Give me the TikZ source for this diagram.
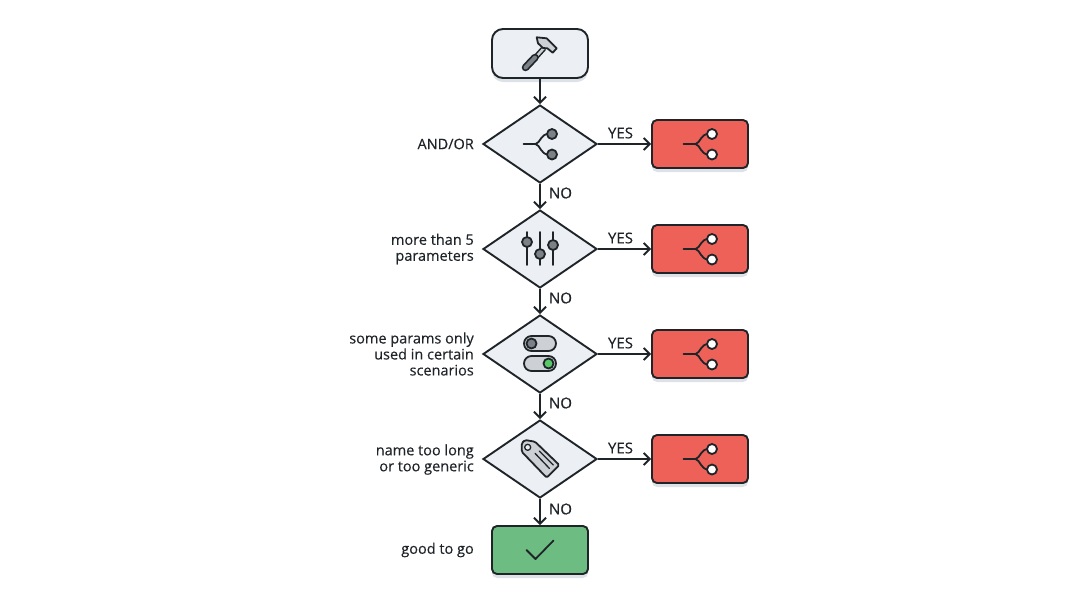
\documentclass[tikz,border=0pt]{standalone}
\usepackage{fontspec}
\setmainfont[FakeBold=0.3]{Open Sans}
\usetikzlibrary{arrows.meta,shapes.geometric,shadows}
\definecolor{inkcol}{HTML}{1F2429}
\definecolor{panelcol}{HTML}{ECF0F4}
\definecolor{redcol}{HTML}{EE6159}
\definecolor{greencol}{HTML}{6DBD82}
\definecolor{knobcol}{HTML}{7C8087}
\definecolor{softcol}{HTML}{CDD0D5}
\definecolor{shadecol}{HTML}{D5DBE3}
% the forked sign: stem end, then fill of the two dots
\newcommand{\forksign}[3]{
	\draw [signline] (#1,#2) -- (#1+12,#2);
	\draw [signline] (#1+28.5,#2-10) -- (#1+25,#2-10) .. controls (#1+17,#2-10) and (#1+17,#2-1) .. (#1+12,#2);
	\draw [signline] (#1+28.5,#2+10.5) -- (#1+25,#2+10.5) .. controls (#1+17,#2+10.5) and (#1+17,#2+1) .. (#1+12,#2);
	\draw [signline,fill=#3] (#1+28.5,#2-10) circle (5);
	\draw [signline,fill=#3] (#1+28.5,#2+10.5) circle (5);
}
\tikzset{
	signline/.style={draw=inkcol,line width=1.8pt,line cap=round,line join=round},
	softshade/.style={drop shadow={shadow xshift=0pt,shadow yshift=-4pt,fill=shadecol,opacity=0.8}},
	startbox/.style={draw=inkcol,line width=1.9pt,fill=panelcol,rounded corners=11pt,minimum width=96pt,minimum height=49pt,inner sep=0pt,softshade},
	redbox/.style={draw=inkcol,line width=1.9pt,fill=redcol,rounded corners=5pt,minimum width=96pt,minimum height=48pt,inner sep=0pt,softshade},
	greenbox/.style={draw=inkcol,line width=1.9pt,fill=greencol,rounded corners=5pt,minimum width=96pt,minimum height=48pt,inner sep=0pt,softshade},
	choice/.style={draw=inkcol,line width=1.9pt,fill=panelcol,shape=diamond,minimum width=114pt,minimum height=78pt,inner sep=0pt},
	leftnote/.style={anchor=east,align=right,inner sep=0pt,font=\fontsize{14.5}{16}\selectfont,text=inkcol},
	flowlabel/.style={inner sep=0pt,font=\fontsize{15}{16}\selectfont,text=inkcol},
	flowline/.style={draw=inkcol,line width=1.9pt,-{Straight Barb[length=6pt,width=12pt,line width=1.9pt]}}
}
\begin{document}
\begin{tikzpicture}[x=1pt,y=-1pt]
	\useasboundingbox (0,0) rectangle (1080,603);
	\node [startbox] (start) at (540,53.5) {};
	\node [choice] (andor) at (540,144) {};
	\node [choice] (params) at (540,249) {};
	\node [choice] (scenarios) at (540,354) {};
	\node [choice] (name) at (540,459) {};
	\node [redbox] (redone) at (700,144) {};
	\node [redbox] (redtwo) at (700,249) {};
	\node [redbox] (redthree) at (700,354) {};
	\node [redbox] (redfour) at (700,459) {};
	\node [greenbox] (good) at (540,550) {};

	\draw [flowline] (start) -- (andor);
	\draw [flowline] (andor) -- (params);
	\draw [flowline] (params) -- (scenarios);
	\draw [flowline] (scenarios) -- (name);
	\draw [flowline] (name) -- (good);
	\draw [flowline] (andor) -- (redone);
	\draw [flowline] (params) -- (redtwo);
	\draw [flowline] (scenarios) -- (redthree);
	\draw [flowline] (name) -- (redfour);

	\node [flowlabel] (yesone) at (620.5,133) {YES};
	\node [flowlabel] (yestwo) at (620.5,238) {YES};
	\node [flowlabel] (yesthree) at (620.5,343) {YES};
	\node [flowlabel] (yesfour) at (620.5,448) {YES};
	\node [flowlabel] (noone) at (560.5,193) {NO};
	\node [flowlabel] (notwo) at (560.5,298) {NO};
	\node [flowlabel] (nothree) at (560.5,403) {NO};
	\node [flowlabel] (nofour) at (560.5,509) {NO};

	\node [leftnote] (noteone) at (474,144) {AND/OR};
	\node [leftnote] (notetwo) at (474,249) {more than 5\\parameters};
	\node [leftnote] (notethree) at (474,354) {some params only\\used in certain\\scenarios};
	\node [leftnote] (notefour) at (474,459.5) {name too long\\or too generic};
	\node [leftnote] (notefive) at (474,550) {good to go};

	% hammer
	\draw [signline,line width=5.5pt,line cap=butt] (535,58) -- (544,48);
	\draw [line width=2.5pt,draw=softcol] (535,58) -- (544,48);
	\draw [signline,fill=softcol] (536.7,37.3) -- (546.7,38.3) -- (556.7,48.3) -- (552.7,52.7) -- (547.3,48.3) -- (543,48) -- (538,43.3) -- cycle;
	\draw [signline,line width=7.5pt] (525.5,67.5) -- (535,57.5);
	\draw [line width=4pt,line cap=round,draw=knobcol] (525.5,67.5) -- (535,57.5);

	% forks
	\forksign{523.5}{144}{knobcol}
	\forksign{683.5}{144}{white}
	\forksign{683.5}{249}{white}
	\forksign{683.5}{354}{white}
	\forksign{683.5}{459}{white}

	% sliders
	\draw [signline] (527,232) -- (527,265);
	\draw [signline] (540,232) -- (540,265);
	\draw [signline] (553,232) -- (553,265);
	\draw [signline,fill=knobcol] (527,242) circle (5);
	\draw [signline,fill=knobcol] (540,254) circle (5);
	\draw [signline,fill=knobcol] (553,245) circle (5);

	% toggles
	\draw [signline,fill=softcol,rounded corners=7.5pt] (524,336) rectangle (556,351);
	\draw [signline,fill=softcol,rounded corners=7.5pt] (524,356) rectangle (556,371);
	\draw [signline,fill=knobcol] (531.5,343.5) circle (5);
	\draw [signline,fill=greencol!80!green] (548.5,363.5) circle (5);

	% tag
	\draw [signline,fill=softcol,rounded corners=1.5pt] (521.7,443.3) -- (525,440) -- (535,441.7) -- (559.3,465) -- (546.7,477.7) -- (521.7,451.7) -- cycle;
	\draw [signline,fill=panelcol,line width=1.3pt] (527.7,447.3) circle (3);
	\draw [signline,line width=1.3pt] (535,453.3) -- (549.3,468.3);
	\draw [signline,line width=1.3pt] (539.3,451) -- (553.3,465);

	% check
	\draw [signline] (526.5,550) -- (535.5,559) -- (553.5,540.5);
\end{tikzpicture}
\end{document}
